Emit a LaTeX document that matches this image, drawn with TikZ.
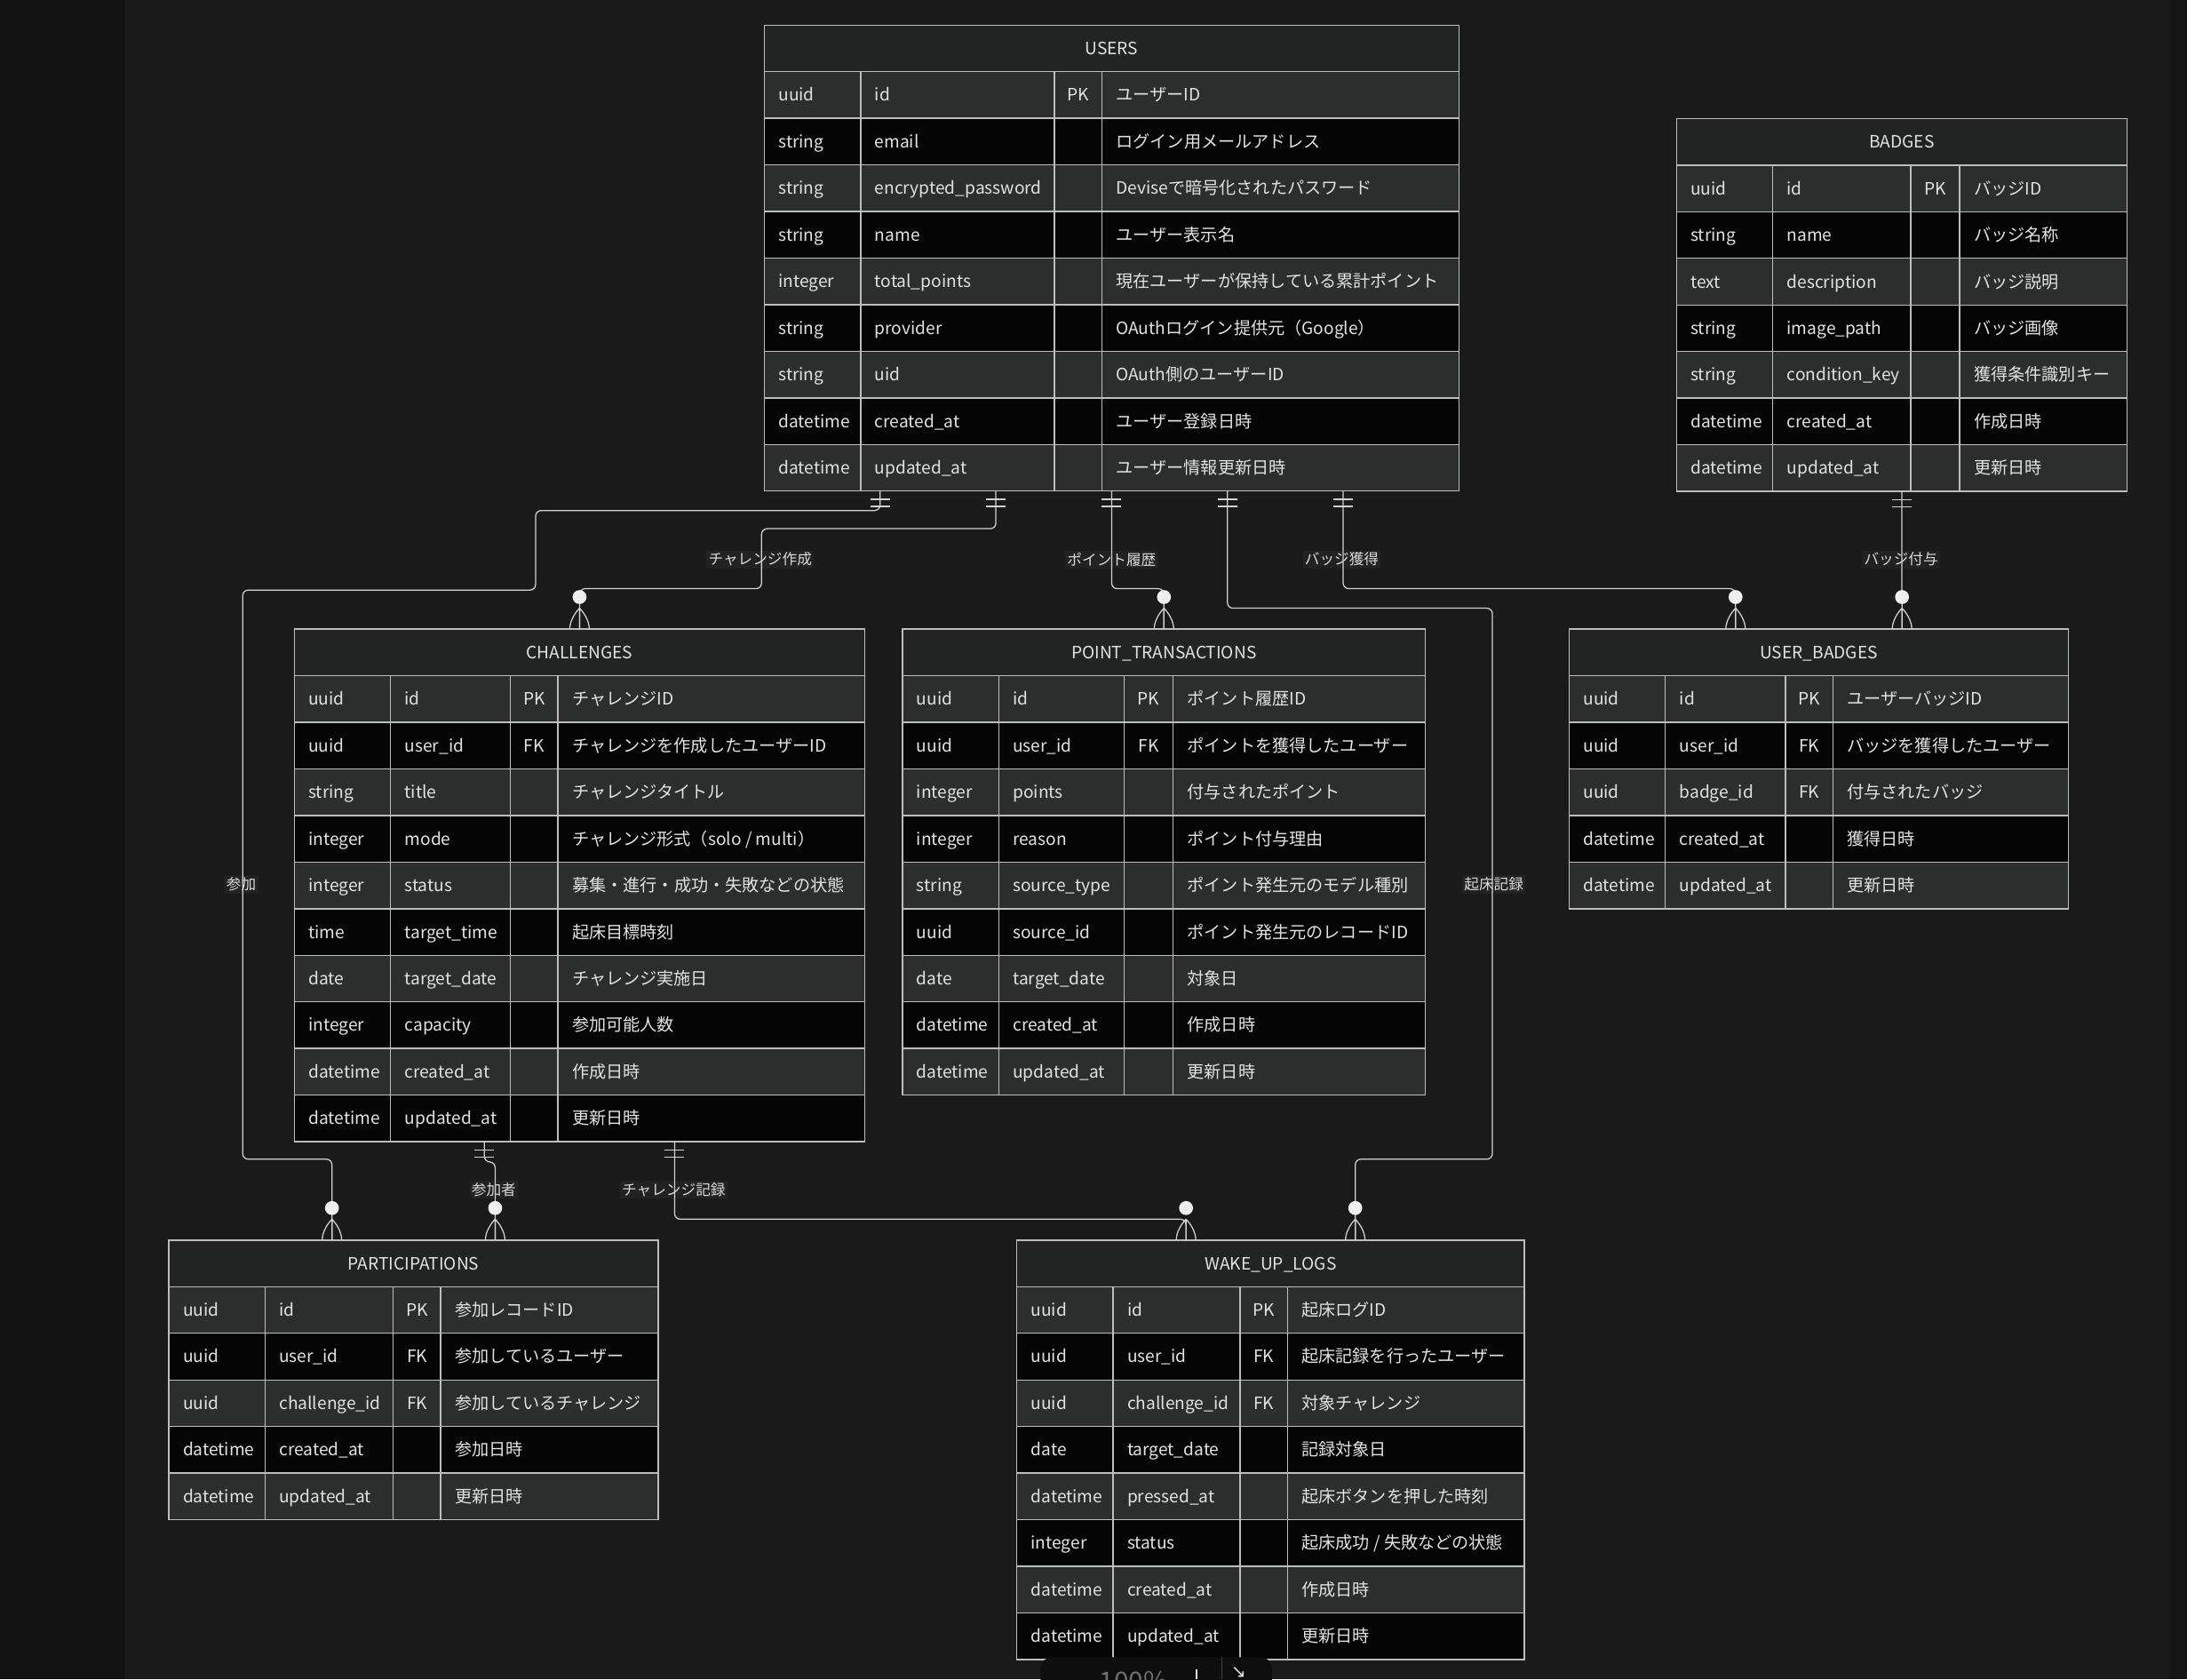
\documentclass[tikz,border=0pt]{standalone}
\usepackage{fontspec}
\setmainfont{Noto Sans CJK JP}
\newfontfamily\symfont{DejaVu Sans}
\usetikzlibrary{calc}
\definecolor{bgmain}{HTML}{1A1A1A}
\definecolor{bgside}{HTML}{131313}
\definecolor{bgedge}{HTML}{151515}
\definecolor{headfill}{HTML}{222423}
\definecolor{rowlite}{HTML}{2C2E2E}
\definecolor{rowdark}{HTML}{050505}
\definecolor{gridcol}{HTML}{BDBDBD}
\definecolor{txtcol}{HTML}{E2E2E2}
\definecolor{relcol}{HTML}{D2D2D2}
\definecolor{lblbg}{HTML}{222222}
\definecolor{lbltext}{HTML}{DADADA}
\definecolor{zoomfill}{HTML}{0E0E0E}
\definecolor{zoomtext}{HTML}{6E6E6E}

% cardinality marks
\tikzset{
  zeromany/.pic={
    \draw[draw=relcol,line width=0.8pt] (0,-15) -- (0,0)
      (0,-15) .. controls (-3,-12) and (-7,-6) .. (-7,0)
      (0,-15) .. controls (3,-12) and (7,-6) .. (7,0);
    \fill[white!94!black] (0,-23) circle (5pt);
  },
  exactone/.pic={
    \draw[draw=relcol,line width=0.8pt] (-7,6) -- (7,6) (-7,11) -- (7,11);
  }
}

\newcommand{\setcols}[4]{\def\colA{#1}\pgfmathsetmacro\colB{#1+#2}%
  \pgfmathsetmacro\colC{#1+#2+#3}\pgfmathsetmacro\colD{#1+#2+#3+#4}}
% #1 name, #2 title, #3 top left, #4 column widths, #5 rows, #6 fields
\newcommand{\ertable}[6]{%
  \begin{scope}[shift={(#3)}]
    \setcols#4
    \foreach \rtype/\rfield/\rkey/\rnote [count=\i] in {#6}{
      \ifodd\i\relax\def\rowfill{rowlite}\else\def\rowfill{rowdark}\fi
      \pgfmathsetmacro\ya{\i*33.4}
      \pgfmathsetmacro\ym{\ya+16.7}
      \filldraw[fill=\rowfill,cellline] (0,\ya) rectangle ++(\colD,33.4);
      \draw[cellline] (\colA,\ya) -- ++(0,33.4) (\colB,\ya) -- ++(0,33.4) (\colC,\ya) -- ++(0,33.4);
      \node[celltext] at (10,\ym) {\rtype};
      \node[celltext] at (\colA+10,\ym) {\rfield};
      \node[celltext,anchor=center] at ({(\colB+\colC)/2},\ym) {\rkey};
      \node[celltext] at (\colC+10,\ym) {\rnote};
    }
    \node[enttitle,minimum width=\colD pt,anchor=north west] (#1-head) at (0,0) {#2};
    \pgfmathsetmacro\tblh{(#5+1)*33.4}
    \node[entbox,minimum width=\colD pt,minimum height=\tblh pt,anchor=north west] (#1) at (0,0) {};
  \end{scope}
}

\begin{document}
\begin{tikzpicture}[x=1pt,y=-1pt,
celltext/.style={anchor=west,inner sep=0pt,text=txtcol,font=\fontsize{12.2}{14}\selectfont,
text height=10pt,text depth=1.1pt},
cellline/.style={draw=gridcol,line width=0.9pt},
enttitle/.style={fill=headfill,draw=gridcol,line width=0.9pt,minimum height=33.4pt,inner sep=0pt,
outer sep=0pt,text=txtcol,font=\fontsize{12.2}{14}\selectfont,text height=10pt,text depth=1.1pt},
entbox/.style={draw=gridcol,line width=0.9pt,inner sep=0pt,outer sep=0pt},
rel/.style={draw=relcol,line width=0.8pt,rounded corners=4pt},
rellabel/.style={fill=lblbg,text=lbltext,inner sep=1.5pt,font=\fontsize{10.6}{12}\selectfont}
]
\useasboundingbox (0,0) rectangle (1568,1204);
\fill[bgmain] (0,0) rectangle (1568,1204);
\fill[bgside] (0,0) rectangle (90,1204);
\fill[bgedge] (1556,0) rectangle (1568,1204);

\ertable{users}{USERS}{548,18}{{69}{139}{34}{256}}{9}{
uuid/id/PK/ユーザーID,
string/email//ログイン用メールアドレス,
string/encrypted\_password//Deviseで暗号化されたパスワード,
string/name//ユーザー表示名,
integer/total\_points//現在ユーザーが保持している累計ポイント,
string/provider//OAuthログイン提供元（Google）,
string/uid//OAuth側のユーザーID,
datetime/created\_at//ユーザー登録日時,
datetime/updated\_at//ユーザー情報更新日時}

\ertable{badges}{BADGES}{1202,85}{{69}{99}{35}{120}}{7}{
uuid/id/PK/バッジID,
string/name//バッジ名称,
text/description//バッジ説明,
string/image\_path//バッジ画像,
string/condition\_key//獲得条件識別キー,
datetime/created\_at//作成日時,
datetime/updated\_at//更新日時}

\ertable{challenges}{CHALLENGES}{211,451}{{69}{86}{34}{220}}{10}{
uuid/id/PK/チャレンジID,
uuid/user\_id/FK/チャレンジを作成したユーザーID,
string/title//チャレンジタイトル,
integer/mode//{チャレンジ形式（solo / multi）},
integer/status//募集・進行・成功・失敗などの状態,
time/target\_time//起床目標時刻,
date/target\_date//チャレンジ実施日,
integer/capacity//参加可能人数,
datetime/created\_at//作成日時,
datetime/updated\_at//更新日時}

\ertable{ptx}{POINT\_TRANSACTIONS}{647,451}{{69}{90}{35}{181}}{9}{
uuid/id/PK/ポイント履歴ID,
uuid/user\_id/FK/ポイントを獲得したユーザー,
integer/points//付与されたポイント,
integer/reason//ポイント付与理由,
string/source\_type//ポイント発生元のモデル種別,
uuid/source\_id//ポイント発生元のレコードID,
date/target\_date//対象日,
datetime/created\_at//作成日時,
datetime/updated\_at//更新日時}

\ertable{ubadges}{USER\_BADGES}{1125,451}{{69}{86}{34}{169}}{5}{
uuid/id/PK/ユーザーバッジID,
uuid/user\_id/FK/バッジを獲得したユーザー,
uuid/badge\_id/FK/付与されたバッジ,
datetime/created\_at//獲得日時,
datetime/updated\_at//更新日時}

\ertable{parts}{PARTICIPATIONS}{121,889}{{69}{92}{34}{156}}{5}{
uuid/id/PK/参加レコードID,
uuid/user\_id/FK/参加しているユーザー,
uuid/challenge\_id/FK/参加しているチャレンジ,
datetime/created\_at//参加日時,
datetime/updated\_at//更新日時}

\ertable{wlogs}{WAKE\_UP\_LOGS}{729,889}{{69}{91}{34}{170}}{8}{
uuid/id/PK/起床ログID,
uuid/user\_id/FK/起床記録を行ったユーザー,
uuid/challenge\_id/FK/対象チャレンジ,
date/target\_date//記録対象日,
datetime/pressed\_at//起床ボタンを押した時刻,
integer/status//{起床成功 / 失敗などの状態},
datetime/created\_at//作成日時,
datetime/updated\_at//更新日時}

% attachment points
\foreach \k in {1,...,5}
  \coordinate (u\k) at ($(users.south west)!\k/6!(users.south east)$);
\coordinate (b1) at (badges.south);
\coordinate (c1) at (challenges.north);
\coordinate (c2) at ($(challenges.south west)!1/3!(challenges.south east)$);
\coordinate (c3) at ($(challenges.south west)!2/3!(challenges.south east)$);
\coordinate (t1) at (ptx.north);
\coordinate (g1) at ($(ubadges.north west)!1/3!(ubadges.north east)$);
\coordinate (g2) at ($(ubadges.north west)!2/3!(ubadges.north east)$);
\coordinate (p1) at ($(parts.north west)!1/3!(parts.north east)$);
\coordinate (p2) at ($(parts.north west)!2/3!(parts.north east)$);
\coordinate (w1) at ($(wlogs.north west)!1/3!(wlogs.north east)$);
\coordinate (w2) at ($(wlogs.north west)!2/3!(wlogs.north east)$);

% relation labels
\node[rellabel] (l-join) at (173,634) {参加};
\node[rellabel] (l-make) at (545,401) {チャレンジ作成};
\node[rellabel] (l-pts) at (797,401) {ポイント履歴};
\node[rellabel] (l-earn) at (962,401) {バッジ獲得};
\node[rellabel] (l-give) at (1363,401) {バッジ付与};
\node[rellabel] (l-wake) at (1071,634) {起床記録};
\node[rellabel] (l-member) at (354,853) {参加者};
\node[rellabel] (l-rec) at (483,853) {チャレンジ記録};

% relations
\draw[rel] (u1) |- (384,366) |- (174,423) |- (p1 |- 0,831) -- (p1);
\draw[rel] (u2) |- (546,379) |- (c1 |- 0,422) -- (c1);
\draw[rel] (u3) |- (t1 |- 0,422) -- (t1);
\draw[rel] (u4) |- (1070,436) |- (w2 |- 0,831) -- (w2);
\draw[rel] (u5) |- (g1 |- 0,422) -- (g1);
\draw[rel] (b1) -- (g2);
\draw[rel] (c2) |- (p2 |- 0,833) -- (p2);
\draw[rel] (c3) |- (w1 |- 0,874) -- (w1);

\foreach \q in {u1,u2,u3,u4,u5,b1,c2,c3} \pic at (\q) {exactone};
\foreach \q in {c1,t1,g1,g2,p1,p2,w1,w2} \pic at (\q) {zeromany};

% zoom widget
\fill[zoomfill,rounded corners=8pt] (746,1188) rectangle (912,1240);
\draw[draw=white!25!black,line width=0.8pt] (876,1188) -- (876,1204);
\node[anchor=base west,inner sep=0pt,text=zoomtext,font=\fontsize{19}{20}\selectfont] (zoomlevel) at (788,1212) {100\%};
\draw[draw=white!88!black,line width=1pt] (858,1197) -- (858,1204);
\node[anchor=north,inner sep=0pt,text=white!88!black,font=\symfont\fontsize{13}{14}\selectfont] (zoomfit) at (888,1195) {↘};
\end{tikzpicture}
\end{document}
